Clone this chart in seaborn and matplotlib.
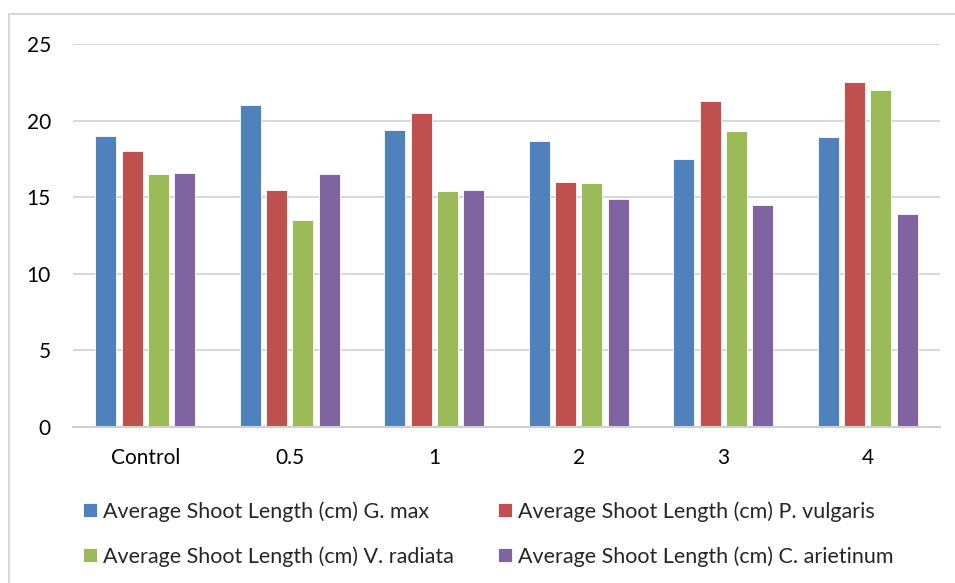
import matplotlib
matplotlib.use("Agg")
import matplotlib.pyplot as plt
from matplotlib.patches import Rectangle
import seaborn as sns
import pandas as pd

categories = ["Control", "0.5", "1", "2", "3", "4"]
series_names = [
    "Average Shoot Length (cm) G. max",
    "Average Shoot Length (cm) P. vulgaris",
    "Average Shoot Length (cm) V. radiata",
    "Average Shoot Length (cm) C. arietinum",
]
g_max = [19.0, 21.0, 19.4, 18.7, 17.5, 18.9]
p_vulgaris = [18.0, 15.5, 20.5, 16.0, 21.3, 22.5]
v_radiata = [16.5, 13.5, 15.4, 15.9, 19.3, 22.0]
c_arietinum = [16.6, 16.5, 15.5, 14.9, 14.5, 13.9]
y_ticks = [0, 5, 10, 15, 20, 25]
colors = ["#4F81BD", "#C0504D", "#9BBB59", "#8064A2"]

rows = []
for name, vals in zip(series_names, [g_max, p_vulgaris, v_radiata, c_arietinum]):
    for c, v in zip(categories, vals):
        rows.append({"cat": c, "series": name, "value": v})
df = pd.DataFrame(rows)

sns.set_theme(style="white")
plt.rcParams["font.family"] = ["Lato", "DejaVu Sans"]

FS = 15
W, H = 955, 583
fig = plt.figure(figsize=(W / 100, H / 100), dpi=100)
ax = fig.add_axes([73 / W, 1 - 427 / H, (940 - 73) / W, (427 - 44) / H])

sns.barplot(data=df, x="cat", y="value", hue="series", order=categories,
            hue_order=series_names, palette=colors, width=0.73, gap=0.2,
            edgecolor="white", linewidth=0.6, saturation=1, ax=ax, legend=True)

ax.set_ylim(0, 25)
ax.set_xlim(-0.5, len(categories) - 0.5)
ax.set_yticks(y_ticks)
ax.set_yticklabels([str(t) for t in y_ticks])
ax.set_xlabel("")
ax.set_ylabel("")
ax.yaxis.grid(True, color="#D9D9D9", linewidth=1.5)
ax.set_axisbelow(True)
for s in ["top", "right", "left"]:
    ax.spines[s].set_visible(False)
ax.spines["bottom"].set_color("#D0D0D0")
ax.spines["bottom"].set_linewidth(1.5)
ax.tick_params(axis="y", length=0, pad=16, labelsize=FS, labelcolor="black")
ax.tick_params(axis="x", length=0, pad=15, labelsize=FS, labelcolor="black")

handles, labels = ax.get_legend_handles_labels()
ax.get_legend().remove()
common = dict(loc="upper left", frameon=False, fontsize=15.5,
              handlelength=0.63, handleheight=0.63, handletextpad=0.3,
              labelspacing=1.15, borderaxespad=0, borderpad=0)
leg1 = fig.legend([handles[0], handles[2]], [labels[0], labels[2]],
                  bbox_to_anchor=(83 / W, 1 - 501 / H), **common)
leg2 = fig.legend([handles[1], handles[3]], [labels[1], labels[3]],
                  bbox_to_anchor=(498 / W, 1 - 501 / H), **common)

fig.patches.append(Rectangle((9 / W, -0.05), 1.1, 1 - 14 / H + 0.05,
                             transform=fig.transFigure, fill=False,
                             edgecolor="#D9D9D9", linewidth=1.5, zorder=-1))

fig.savefig("out.png", dpi=100)
